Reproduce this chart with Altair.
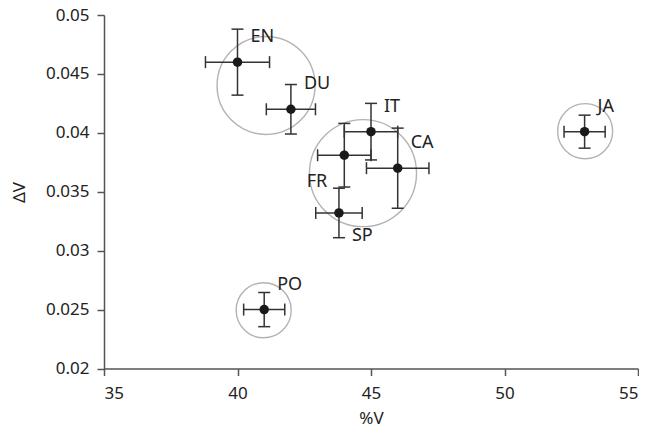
import altair as alt
import pandas as pd

# ---- data ----
langs = ["EN", "DU", "IT", "CA", "FR", "SP", "JA", "PO"]
pct_v = [40.0, 42.0, 45.0, 46.0, 44.0, 43.8, 53.0, 41.0]
delta_v = [0.0460, 0.0420, 0.0401, 0.0370, 0.0381, 0.0332, 0.0401, 0.0250]
pct_v_err = [1.2, 0.92, 1.0, 1.17, 1.0, 0.87, 0.77, 0.77]
delta_v_err = [0.0028, 0.0021, 0.0024, 0.0034, 0.0027, 0.0021, 0.0014, 0.00145]

cluster_x = [41.07, 44.70, 53.02, 40.98]
cluster_y = [0.04402, 0.03658, 0.04014, 0.02494]
cluster_d = [98, 107, 55, 55]  # circle diameters in px

x_ticks = [35, 40, 45, 50, 55]
y_ticks = [0.02, 0.025, 0.03, 0.035, 0.04, 0.045, 0.05]

df = pd.DataFrame({
    "lang": langs,
    "x": pct_v,
    "y": delta_v,
    "xlo": [a - b for a, b in zip(pct_v, pct_v_err)],
    "xhi": [a + b for a, b in zip(pct_v, pct_v_err)],
    "ylo": [a - b for a, b in zip(delta_v, delta_v_err)],
    "yhi": [a + b for a, b in zip(delta_v, delta_v_err)],
})
clusters = pd.DataFrame({
    "x": cluster_x,
    "y": cluster_y,
    "size": [d * d for d in cluster_d],
})

FONT = "Noto Sans"
TXT = "#222222"
BAR = "#333333"

xs = alt.Scale(domain=[35, 55], nice=False, zero=False)
ys = alt.Scale(domain=[0.02, 0.05], nice=False, zero=False)

X = alt.X("x:Q", scale=xs, title="%V",
          axis=alt.Axis(values=x_ticks, grid=False, format="d", labelPadding=10,
                        titleY=55, titleBaseline="alphabetic", titleX=267))
Y = alt.Y("y:Q", scale=ys, title="ΔV",
          axis=alt.Axis(values=y_ticks, grid=False, format="~g", labelPadding=8,
                        titleX=-85, titleBaseline="middle", titleY=177))

circles = alt.Chart(clusters).mark_point(
    shape="circle", filled=False, stroke="#b3b3b3", strokeWidth=1.4, opacity=1
).encode(x=X, y=Y, size=alt.Size("size:Q", scale=None, legend=None))

base = alt.Chart(df)

vbar = base.mark_rule(color=BAR, strokeWidth=1.5).encode(
    x=alt.X("x:Q", scale=xs), y=alt.Y("ylo:Q", scale=ys), y2="yhi:Q")
hbar = base.mark_rule(color=BAR, strokeWidth=1.5).encode(
    y=alt.Y("y:Q", scale=ys), x=alt.X("xlo:Q", scale=xs), x2="xhi:Q")

cap_lo = base.mark_tick(orient="horizontal", color=BAR, size=12, thickness=1.5, opacity=1).encode(
    x=alt.X("x:Q", scale=xs), y=alt.Y("ylo:Q", scale=ys))
cap_hi = base.mark_tick(orient="horizontal", color=BAR, size=12, thickness=1.5, opacity=1).encode(
    x=alt.X("x:Q", scale=xs), y=alt.Y("yhi:Q", scale=ys))
cap_l = base.mark_tick(orient="vertical", color=BAR, size=12, thickness=1.5, opacity=1).encode(
    x=alt.X("xlo:Q", scale=xs), y=alt.Y("y:Q", scale=ys))
cap_r = base.mark_tick(orient="vertical", color=BAR, size=12, thickness=1.5, opacity=1).encode(
    x=alt.X("xhi:Q", scale=xs), y=alt.Y("y:Q", scale=ys))

dots = base.mark_circle(size=90, color="#1a1a1a", opacity=1).encode(
    x=alt.X("x:Q", scale=xs), y=alt.Y("y:Q", scale=ys))

lab_ur = base.transform_filter(
    alt.FieldOneOfPredicate(field="lang", oneOf=["EN", "DU", "IT", "CA", "JA", "PO"])
).mark_text(align="left", baseline="middle", dx=13, dy=-25, font=FONT, fontSize=18, color=TXT
).encode(x=alt.X("x:Q", scale=xs), y=alt.Y("y:Q", scale=ys), text="lang:N")

lab_fr = base.transform_filter(alt.datum.lang == "FR").mark_text(
    align="right", baseline="middle", dx=-17, dy=27, font=FONT, fontSize=18, color=TXT
).encode(x=alt.X("x:Q", scale=xs), y=alt.Y("y:Q", scale=ys), text="lang:N")

lab_sp = base.transform_filter(alt.datum.lang == "SP").mark_text(
    align="left", baseline="middle", dx=13, dy=23, font=FONT, fontSize=18, color=TXT
).encode(x=alt.X("x:Q", scale=xs), y=alt.Y("y:Q", scale=ys), text="lang:N")

chart = alt.layer(
    circles, vbar, hbar, cap_lo, cap_hi, cap_l, cap_r, dots, lab_ur, lab_fr, lab_sp
).properties(
    width=534, height=353.5,
    autosize=alt.AutoSizeParams(type="none"),
    padding={"left": 96, "top": 7, "right": 1, "bottom": 60.5},
).configure_view(stroke=None).configure_axis(
    domainColor="#555555", domainWidth=1.5, tickColor="#555555", tickWidth=1.5,
    tickSize=7, labelFont=FONT, labelFontSize=17, labelColor=TXT,
    titleFont=FONT, titleFontSize=17, titleColor=TXT, titleFontWeight="normal",
)

chart.save("out.html", embed_options={"renderer": "svg", "actions": False})
